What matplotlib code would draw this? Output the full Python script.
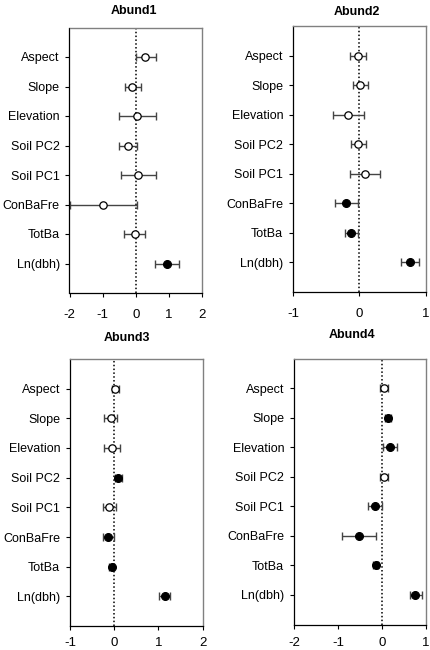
import matplotlib.pyplot as plt

plt.rcParams['font.family'] = ['Liberation Sans', 'DejaVu Sans']

labels = ['Aspect', 'Slope', 'Elevation', 'Soil PC2', 'Soil PC1',
          'ConBaFre', 'TotBa', 'Ln(dbh)']

# estimates, lower and upper CI, significant (filled) flags
abund1_est = [0.29, -0.10, 0.04, -0.23, 0.06, -0.99, -0.03, 0.94]
abund1_lo = [0.00, -0.33, -0.50, -0.50, -0.46, -2.00, -0.35, 0.58]
abund1_hi = [0.61, 0.15, 0.60, 0.05, 0.60, 0.05, 0.28, 1.30]
abund1_sig = [0, 0, 0, 0, 0, 0, 0, 1]

abund2_est = [-0.025, 0.015, -0.175, -0.025, 0.085, -0.20, -0.125, 0.76]
abund2_lo = [-0.15, -0.10, -0.40, -0.125, -0.15, -0.375, -0.225, 0.63]
abund2_hi = [0.10, 0.135, 0.065, 0.10, 0.315, -0.025, -0.025, 0.89]
abund2_sig = [0, 0, 0, 0, 0, 1, 1, 1]

abund3_est = [0.03, -0.08, -0.05, 0.09, -0.12, -0.14, -0.06, 1.14]
abund3_lo = [-0.06, -0.23, -0.23, 0.015, -0.26, -0.25, -0.12, 1.02]
abund3_hi = [0.11, 0.07, 0.13, 0.17, 0.05, -0.01, 0.0, 1.27]
abund3_sig = [0, 0, 0, 1, 0, 1, 1, 1]

abund4_est = [0.045, 0.13, 0.175, 0.045, -0.16, -0.52, -0.145, 0.75]
abund4_lo = [-0.05, 0.06, 0.03, -0.045, -0.31, -0.90, -0.20, 0.64]
abund4_hi = [0.14, 0.21, 0.33, 0.14, -0.01, -0.13, -0.08, 0.90]
abund4_sig = [0, 1, 1, 0, 1, 1, 1, 1]

panels = [
    ('Abund1', abund1_est, abund1_lo, abund1_hi, abund1_sig, (-2, 2), [-2, -1, 0, 1, 2]),
    ('Abund2', abund2_est, abund2_lo, abund2_hi, abund2_sig, (-1, 1), [-1, 0, 1]),
    ('Abund3', abund3_est, abund3_lo, abund3_hi, abund3_sig, (-1, 2), [-1, 0, 1, 2]),
    ('Abund4', abund4_est, abund4_lo, abund4_hi, abund4_sig, (-2, 1), [-2, -1, 0, 1]),
]

W, H = 431, 650
# axes boxes in pixels: left, top, right, bottom
boxes = [(69.5, 27.5, 202, 293), (293, 26, 426, 292),
         (70, 359, 202.5, 626), (294, 358.5, 426, 624.5)]
# title centres in pixels, x tick label pad
title_pos = [(134, 10.5), (357, 12), (127, 338), (352, 335.5)]
xpads = [8.5, 8.5, 5, 6]

fig = plt.figure(figsize=(W / 100, H / 100), dpi=100)

for (title, est, lo, hi, sig, xlim, xt), (l, t, r, b), (tx, ty), xp in zip(panels, boxes, title_pos, xpads):
    ax = fig.add_axes([l / W, 1 - b / H, (r - l) / W, (b - t) / H])
    ypos = list(range(1, len(labels) + 1))
    ax.axvline(0, color='black', linestyle=(0, (1, 1.5)), linewidth=1.1, zorder=1)
    for y, e, a, z, s in zip(ypos, est, lo, hi, sig):
        ax.errorbar([e], [y], xerr=[[e - a], [z - e]], fmt='none',
                    ecolor='#444444', elinewidth=1.0, capsize=2.6, capthick=1.0,
                    zorder=2)
        ax.plot([e], [y], 'o', markersize=5.6 if s else 5.3,
                markerfacecolor='black' if s else 'white',
                markeredgecolor='black', markeredgewidth=0.9, zorder=3)
    ax.set_xlim(*xlim)
    ax.set_ylim(9, 0)
    ax.set_xticks(xt)
    ax.set_xticklabels([str(v) for v in xt])
    ax.set_yticks(ypos)
    ax.set_yticklabels(labels)
    ax.tick_params(axis='both', direction='out', length=3, width=0.8,
                   labelsize=9, color='black', pad=4)
    ax.tick_params(axis='x', pad=xp, labelsize=9.5)
    for side in ['left', 'bottom']:
        ax.spines[side].set_color('black')
        ax.spines[side].set_linewidth(0.9)
    for side in ['top', 'right']:
        ax.spines[side].set_color('#808080')
        ax.spines[side].set_linewidth(1.0)
    fig.text(tx / W, 1 - ty / H, title, fontsize=9, fontweight='bold',
             ha='center', va='center')

fig.savefig('out.png', dpi=100)
